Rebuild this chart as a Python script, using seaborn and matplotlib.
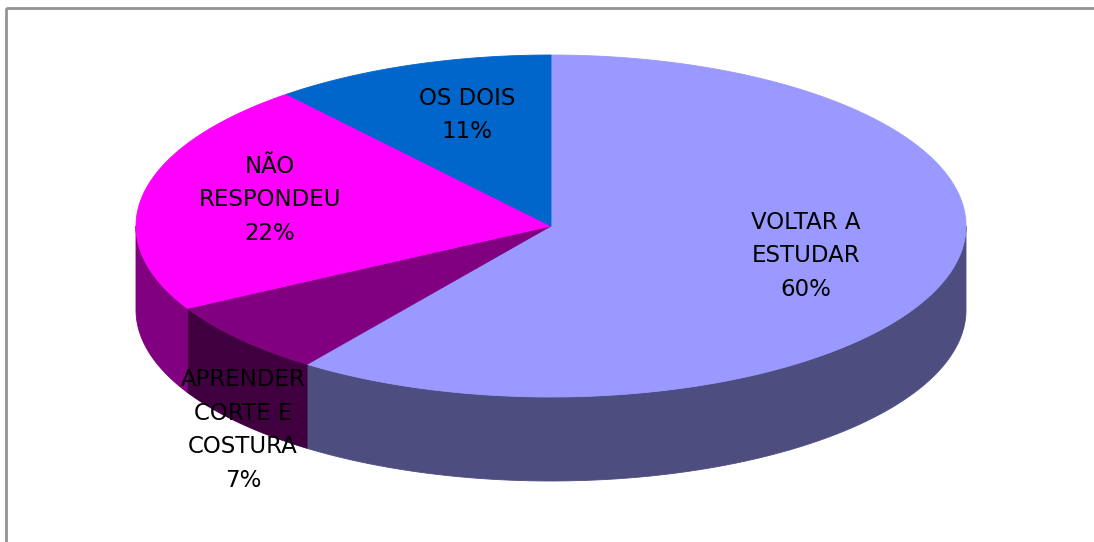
import numpy as np
import matplotlib
matplotlib.use("Agg")
import matplotlib.pyplot as plt
from matplotlib.patches import Polygon, Rectangle
import seaborn as sns

# data
categories = ["VOLTAR A\nESTUDAR", "APRENDER\nCORTE E\nCOSTURA", "NÃO\nRESPONDEU", "OS DOIS"]
values = [60, 7, 22, 11]
top_colors = ["#9999FF", "#800080", "#FF00FF", "#0066CC"]

sns.set_theme(style="white")
plt.rcParams["font.family"] = ["DejaVu Sans"]

# layout of the 3D pie (pixel space)
cx, cy = 551, 226
rx, ry = 415, 171
depth = 84
start_angle = 90

# label anchors (pixel space), one per category
label_pos = [(806, 256), (243, 430), (270, 200), (467, 115)]

fig = plt.figure(figsize=(10.94, 5.42), dpi=100)
ax = fig.add_axes([0, 0, 1, 1])
ax.set_xlim(0, 1094)
ax.set_ylim(542, 0)
ax.axis("off")

palette = sns.color_palette(top_colors)
side_colors = [tuple(c * 0.5 for c in col) for col in palette]

total = sum(values)
spans = [v / total * 360 for v in values]
bounds = []
a = start_angle
for s in spans:
    bounds.append((a - s, a))
    a -= s


def ellipse_pts(t0, t1, n=200, dy=0):
    t = np.radians(np.linspace(t0, t1, n))
    return np.column_stack([cx + rx * np.cos(t), cy - ry * np.sin(t) + dy])


# side walls (only the front half is visible)
for (lo, hi), col in zip(bounds, side_colors):
    for k in (-1, 0, 1):
        f_lo = max(lo, -180 + 360 * k)
        f_hi = min(hi, 360 * k)
        if f_hi - f_lo <= 0:
            continue
        top = ellipse_pts(f_lo, f_hi)
        bot = ellipse_pts(f_hi, f_lo, dy=depth)
        ax.add_patch(Polygon(np.vstack([top, bot]), closed=True,
                             facecolor=col, edgecolor=col, lw=0.6))

# top faces
for (lo, hi), col in zip(bounds, palette):
    pts = np.vstack([[cx, cy], ellipse_pts(lo, hi)])
    ax.add_patch(Polygon(pts, closed=True, facecolor=col, edgecolor=col, lw=0.6))

# labels
for name, v, (lx, ly) in zip(categories, values, label_pos):
    ax.text(lx, ly, f"{name}\n{v}%", ha="center", va="center",
            fontsize=16.5, linespacing=1.6, color="black")

# chart frame
ax.add_patch(Rectangle((5.5, 7.5), 1200, 600, fill=False,
                       edgecolor="#939393", lw=2))

fig.savefig("out.png", dpi=100)
